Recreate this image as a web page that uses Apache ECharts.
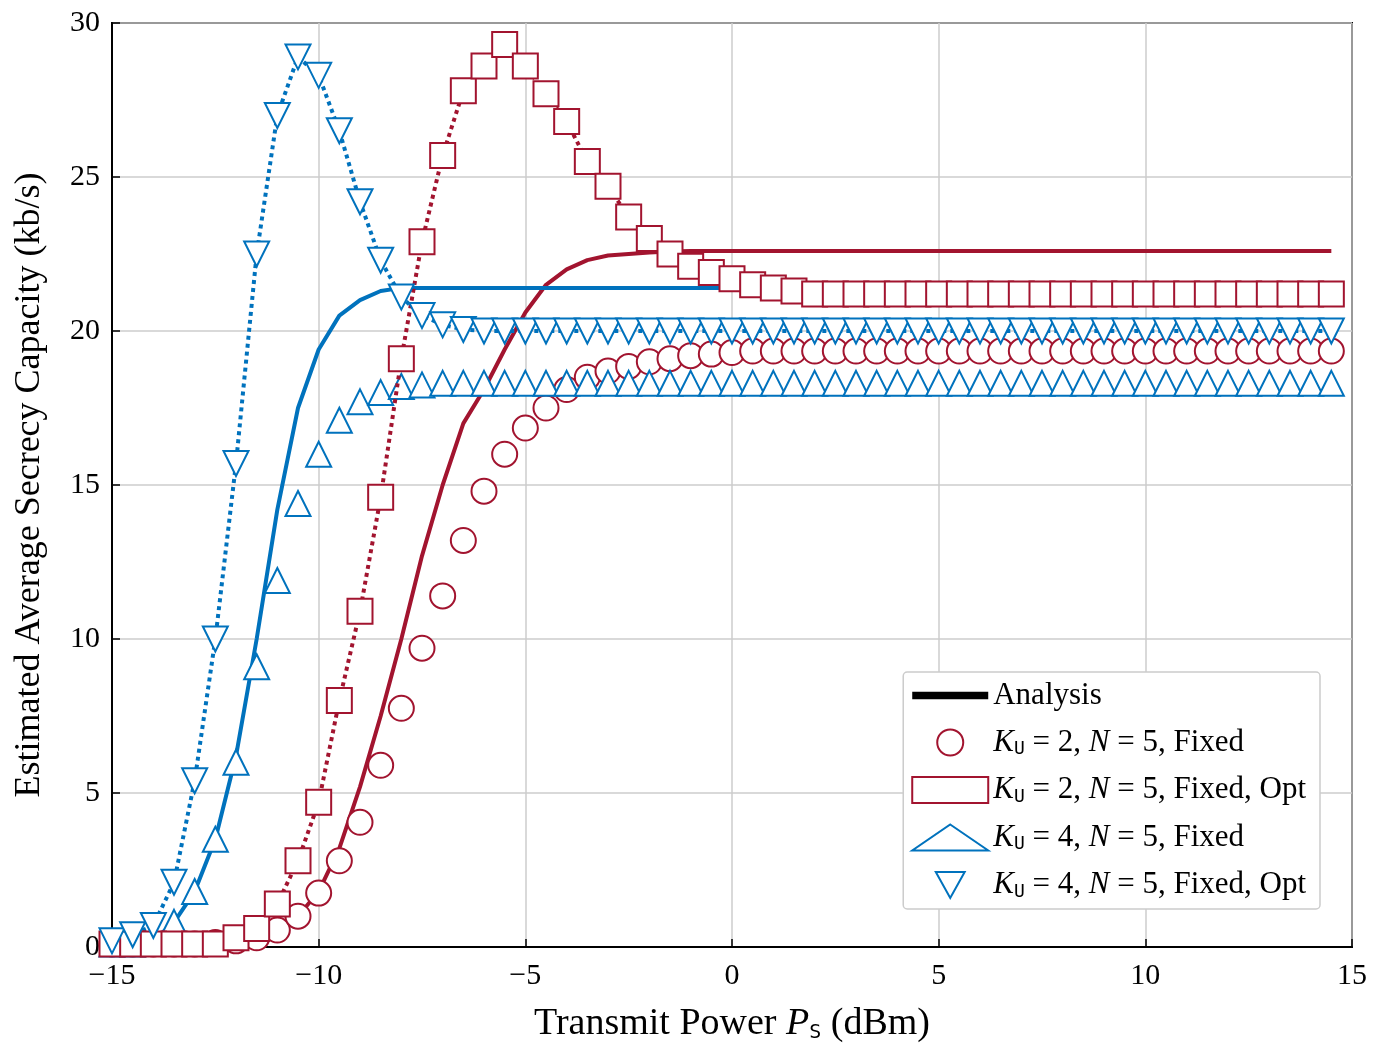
<!DOCTYPE html>
<html><head><meta charset="utf-8">
<script src="https://cdn.jsdelivr.net/npm/echarts@6/dist/echarts.min.js"></script>
<style>html,body{margin:0;padding:0;background:#fff}#c{width:1382px;height:1057px}</style>
</head><body><div id="c"></div>
<script>
const xs=[];for(let i=0;i<60;i++)xs.push(-15+i*0.5);
const analysisK2=[0,0,0,0,0,0,0.05,0.2,0.5,1.0,1.8,3.2,5.2,7.5,10.0,12.7,15.0,17.0,18.1,19.4,20.6,21.5,22.0,22.3,22.45,22.5,22.55,22.58,22.6,22.6];
const analysisK4=[0,0.05,0.2,0.8,1.8,3.5,6.2,10.0,14.2,17.5,19.4,20.5,21.0,21.3,21.4];
const fixedK2=[0.1,0.1,0.1,0.1,0.1,0.15,0.2,0.3,0.55,1.0,1.75,2.8,4.05,5.9,7.75,9.7,11.4,13.2,14.8,16.0,16.85,17.5,18.1,18.5,18.7,18.85,19.0,19.1,19.2,19.25,19.3];
const optK2=[0.1,0.1,0.1,0.1,0.1,0.1,0.3,0.6,1.4,2.8,4.7,8.0,10.9,14.6,19.1,22.9,25.7,27.8,28.6,29.3,28.6,27.7,26.8,25.5,24.7,23.7,23.0,22.5,22.1,21.9,21.7,21.5,21.4,21.3];
const fixedK4=[0.1,0.1,0.3,0.8,1.8,3.5,6.0,9.1,11.9,14.4,16.0,17.1,17.7,18.0,18.2,18.25];
const optK4=[0.2,0.4,0.7,2.1,5.4,10.0,15.7,22.5,27.0,28.9,28.3,26.5,24.2,22.3,21.1,20.5,20.2,20.05];
function fill(a,v){const r=[];for(let i=0;i<60;i++)r.push([xs[i],i<a.length?a[i]:v]);return r;}
const RED='#A2142F',BLUE='#0072BD',F='Liberation Serif';
const k=(n,ext)=>'{i|K}{s|U}{t| = '+n+', }{i|N}{t| = 5, Fixed'+ext+'}';
const labels={'Analysis':'{t|Analysis}','a':k(2,''),'b':k(2,', Opt'),'c':k(4,''),'d':k(4,', Opt')};
const DOWN='path://M0,0 L10,0 L5,9 Z';
const chart=echarts.init(document.getElementById('c'));
const line=(name,data,color,type,sym)=>({name,type:'line',data,showSymbol:!!sym,symbol:sym||'none',symbolSize:25,
 itemStyle:{color:'#fff',borderColor:color,borderWidth:2},lineStyle:{color,width:4,type:type||'solid'},color,z:type?3:2,animation:false});
const ax=(extra)=>Object.assign({type:'value',
  axisLine:{onZero:false,lineStyle:{color:'#000',width:2}},axisTick:{inside:true,length:8,lineStyle:{color:'#000',width:1.5}},
  splitLine:{show:true,lineStyle:{color:'#ccc',width:1.5}}},extra);
chart.setOption({
 animation:false,
 grid:{left:112,right:30,top:23,bottom:110,show:true,borderColor:'#000',borderWidth:2},
 xAxis:ax({min:-15,max:15,interval:5,
  name:'Transmit Power {i|P}{s|S} (dBm)',nameLocation:'middle',nameGap:58,
  nameTextStyle:{fontFamily:F,fontSize:38,color:'#000',rich:{i:{fontStyle:'italic',fontFamily:F,fontSize:38},s:{fontFamily:'DejaVu Sans Mono',fontSize:20,verticalAlign:'bottom',padding:[18,0,0,0]}}},
  axisLabel:{fontFamily:F,fontSize:30,color:'#000',margin:14,formatter:v=>v<0?'\u2212'+(-v):v}}),
 yAxis:ax({min:0,max:30,interval:5,
  name:'Estimated Average Secrecy Capacity (kb/s)',nameLocation:'middle',nameGap:64,
  nameTextStyle:{fontFamily:F,fontSize:36,color:'#000'},
  axisLabel:{fontFamily:F,fontSize:30,color:'#000',margin:12}}),
 legend:{orient:'vertical',right:62,top:672,backgroundColor:'#fff',borderColor:'#ccc',borderWidth:1.5,borderRadius:4,
  padding:[8,14,8,8],itemGap:16,itemWidth:76,itemHeight:26,
  data:[{name:'Analysis',icon:'path://M0,0 L10,0 L10,1 L0,1 Z',itemStyle:{color:'#000'}},{name:'a',icon:'circle'},{name:'b',icon:'rect'},{name:'c',icon:'triangle'},{name:'d',icon:DOWN}],
  formatter:n=>labels[n],
  textStyle:{fontFamily:F,fontSize:31,color:'#000',rich:{t:{fontFamily:F,fontSize:31},i:{fontFamily:F,fontStyle:'italic',fontSize:31},s:{fontFamily:'DejaVu Sans Mono',fontSize:18,verticalAlign:'bottom',padding:[14,0,0,0]}}}},
 series:[
  {name:'Analysis',type:'line',data:[],symbol:'none',color:'#000',lineStyle:{color:'#000',width:4}},
  line('AK2',fill(analysisK2,22.6),RED,null,null),
  line('AK4',fill(analysisK4,21.4),BLUE,null,null),
  Object.assign(line('a',fill(fixedK2,19.35),RED,null,'circle'),{lineStyle:{width:0,color:RED}}),
  line('b',fill(optK2,21.2),RED,'dotted','rect'),
  Object.assign(line('c',fill(fixedK4,18.3),BLUE,null,'triangle'),{lineStyle:{width:0,color:BLUE}}),
  line('d',fill(optK4,20.0),BLUE,'dotted',DOWN)
 ]
});
</script></body></html>
